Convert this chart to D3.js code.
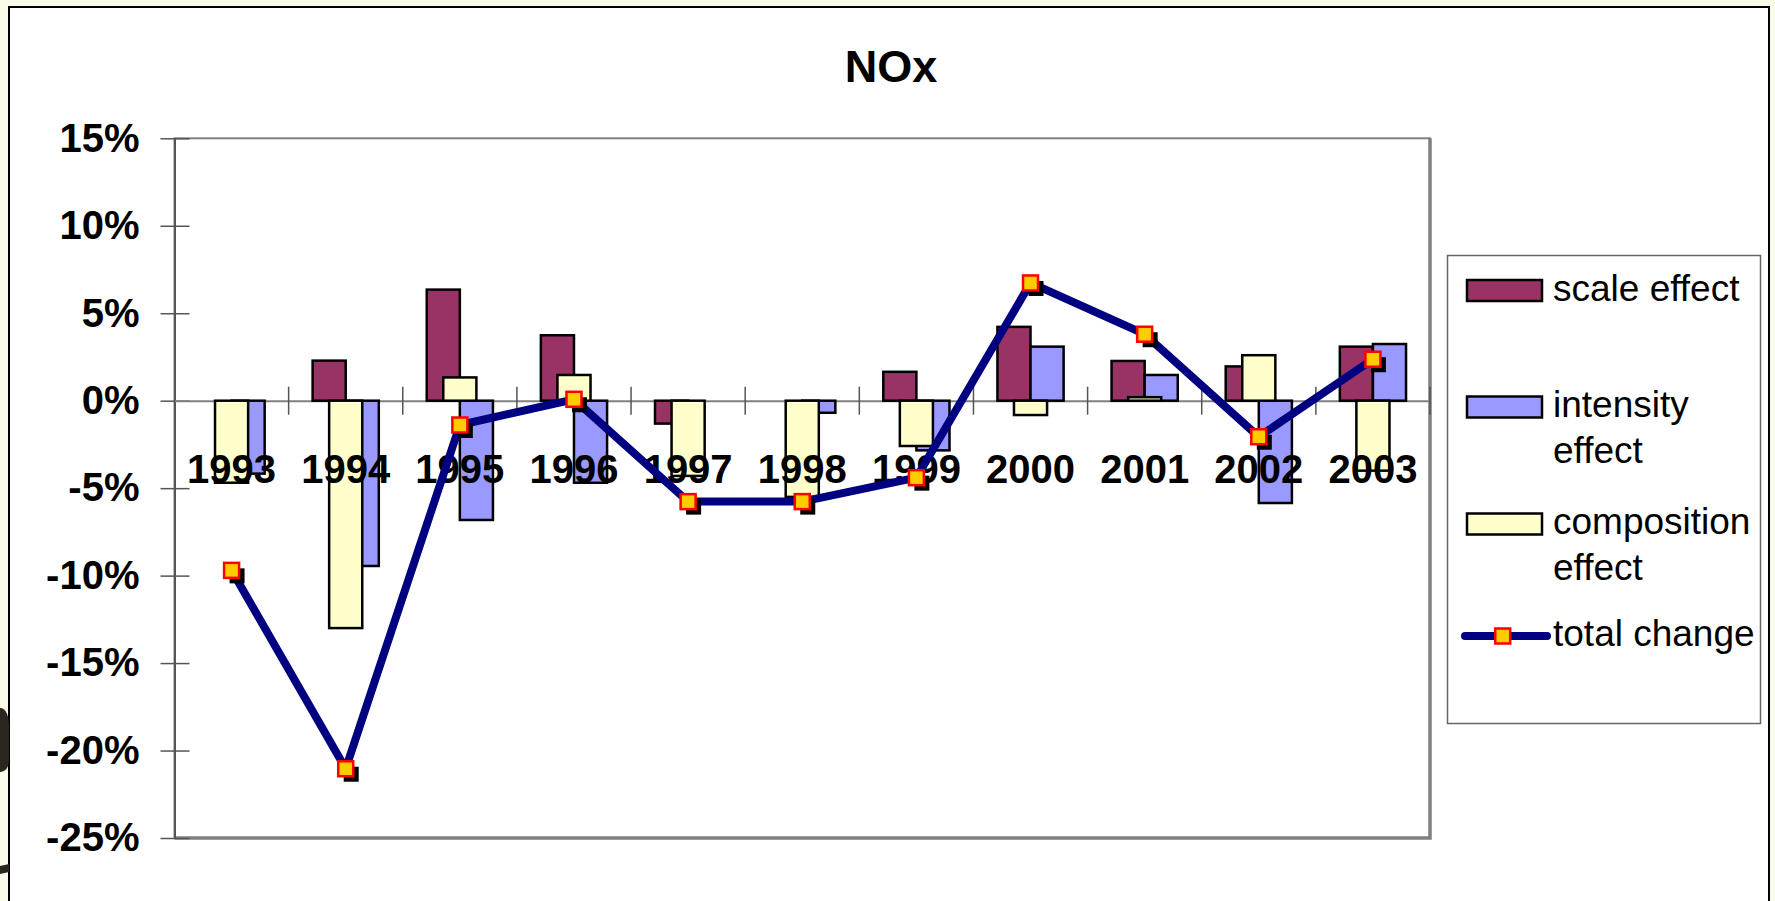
<!DOCTYPE html>
<html>
<head>
<meta charset="utf-8">
<script src="https://cdn.jsdelivr.net/npm/d3@7"></script>
<style>
  html, body { margin: 0; padding: 0; background: #FAFBE9; }
  svg { display: block; }
  text { font-family: "Liberation Sans", Arial, sans-serif; }
</style>
</head>
<body>
<svg id="chart" width="1775" height="901"></svg>
<script>
// Decomposition of NOx emission changes (year-on-year, %)
const years = ["1993","1994","1995","1996","1997","1998","1999","2000","2001","2002","2003"];
const scaleEffect       = [0, 2.29, 6.35, 3.74, -1.31, 0, 1.65, 4.22, 2.27, 1.96, 3.09];
const intensityEffect   = [-4.17, -9.45, -6.82, -4.69, 0, -0.69, -2.84, 3.09, 1.47, -5.85, 3.24];
const compositionEffect = [-4.69, -13.0, 1.33, 1.47, -4.3, -5.5, -2.59, -0.82, 0.2, 2.6, -4.0];
const totalChange       = [-9.7, -21.04, -1.39, 0.08, -5.77, -5.77, -4.4, 6.73, 3.8, -2.06, 2.37];
const yTicks = [15, 10, 5, 0, -5, -10, -15, -20, -25];
const seriesNames = ["scale effect", "intensity effect", "composition effect", "total change"];
const legendLines = [["scale effect"], ["intensity", "effect"], ["composition", "effect"], ["total change"]];
const barColors = { "scale effect": "#993366", "intensity effect": "#9999FF", "composition effect": "#FFFFCC" };

const svg = d3.select("#chart");

// chart area background and border
svg.append("rect").attr("x", 9).attr("y", 7).attr("width", 1760).attr("height", 1000)
  .attr("fill", "#FFFFFF").attr("stroke", "#000").attr("stroke-width", 2);

// dark shapes peeking in at the far left edge
svg.append("path").attr("d", "M0,708 C6,708 9,716 9,726 L9,760 C9,768 5,772 0,772 Z").attr("fill", "#2b2620");
svg.append("path").attr("d", "M0,866 L9,864 L9,872 L0,874 Z").attr("fill", "#2b2620");

// title
svg.append("text").attr("x", 891).attr("y", 81.5).attr("text-anchor", "middle")
  .attr("font-weight", "bold").attr("font-size", 45).text("NOx");

const plot = { left: 174.5, right: 1430, top: 138.3, bottom: 838 };

const x = d3.scaleBand().domain(years).range([plot.left, plot.right]).paddingInner(0).paddingOuter(0);
const y = d3.scaleLinear().domain([-25, 15]).range([plot.bottom, plot.top]);

const barW = x.bandwidth() * 0.29;
const seriesOffset = d3.scalePoint()
  .domain(["scale effect", "composition effect", "intensity effect"])
  .range([-barW / 2, barW / 2]);

// plot area frame
svg.append("rect").attr("x", plot.left).attr("y", plot.top)
  .attr("width", plot.right - plot.left).attr("height", plot.bottom - plot.top)
  .attr("fill", "#FFFFFF").attr("stroke", "#808080").attr("stroke-width", 2);
svg.append("path")
  .attr("d", `M${plot.right},${plot.top}V${plot.bottom}H${plot.left}`)
  .attr("fill", "none").attr("stroke", "#808080").attr("stroke-width", 3.5);

// y axis
const yAxis = svg.append("g").attr("transform", `translate(${plot.left},0)`)
  .call(d3.axisLeft(y).tickValues(yTicks).tickSizeInner(14).tickSizeOuter(0).tickPadding(21)
    .tickFormat(d => d + "%"));
yAxis.select(".domain").attr("stroke", "#555").attr("stroke-width", 2);
yAxis.selectAll(".tick line").attr("x1", 15).attr("stroke", "#555").attr("stroke-width", 1.5);
yAxis.selectAll(".tick text").attr("font-size", 40).attr("font-weight", "bold")
  .attr("fill", "#000").style("font-family", "'Liberation Sans', Arial, sans-serif");

// x axis line at zero with tick marks between categories
const xAxisLine = svg.append("g").attr("transform", `translate(0,${y(0)})`)
  .call(d3.axisBottom(x).tickSize(0).tickSizeOuter(0).tickFormat(""));
xAxisLine.select(".domain").attr("stroke", "#808080").attr("stroke-width", 2);
xAxisLine.selectAll(".tick").remove();
svg.append("g").selectAll("line")
  .data(years.slice(1).concat(["end"]))
  .join("line")
  .attr("x1", (d, i) => x(years[0]) + (i + 1) * x.step())
  .attr("x2", (d, i) => x(years[0]) + (i + 1) * x.step())
  .attr("y1", y(0) - 14).attr("y2", y(0) + 14)
  .attr("stroke", "#555").attr("stroke-width", 1.5);

// bars: scale, intensity, composition (composition drawn on top)
const barSeries = [
  { name: "scale effect", values: scaleEffect },
  { name: "intensity effect", values: intensityEffect },
  { name: "composition effect", values: compositionEffect }
];
barSeries.forEach(s => {
  svg.append("g").selectAll("rect")
    .data(s.values.map((v, i) => ({ year: years[i], v })).filter(d => d.v !== 0))
    .join("rect")
    .attr("x", d => x(d.year) + x.bandwidth() / 2 + seriesOffset(s.name) - barW / 2)
    .attr("y", d => y(Math.max(0, d.v)))
    .attr("width", barW)
    .attr("height", d => Math.abs(y(d.v) - y(0)))
    .attr("fill", barColors[s.name])
    .attr("stroke", "#000").attr("stroke-width", 2.5);
});

// category labels
const xLabels = svg.append("g").attr("transform", `translate(0,${y(0)})`)
  .call(d3.axisBottom(x).tickSize(0));
xLabels.select(".domain").remove();
xLabels.selectAll(".tick text").attr("dy", null).attr("y", 82)
  .attr("font-size", 40).attr("font-weight", "bold").attr("fill", "#000")
  .style("font-family", "'Liberation Sans', Arial, sans-serif");

// total change line
const cx = (d, i) => x(years[i]) + x.bandwidth() / 2;
const line = d3.line().x((d, i) => cx(d, i)).y(d => y(d));
svg.append("path").datum(totalChange).attr("d", line)
  .attr("fill", "none").attr("stroke", "#000080").attr("stroke-width", 8)
  .attr("stroke-linejoin", "round");

const mk = 15;
svg.append("g").selectAll("rect").data(totalChange).join("rect")
  .attr("x", (d, i) => cx(d, i) - mk / 2 + 5.5).attr("y", d => y(d) - mk / 2 + 5.5)
  .attr("width", mk).attr("height", mk).attr("fill", "#000");
svg.append("g").selectAll("rect").data(totalChange).join("rect")
  .attr("x", (d, i) => cx(d, i) - mk / 2).attr("y", d => y(d) - mk / 2)
  .attr("width", mk).attr("height", mk)
  .attr("fill", "#FFCC00").attr("stroke", "#FF0000").attr("stroke-width", 2.5);

// legend
const legend = svg.append("g");
legend.append("rect").attr("x", 1447.5).attr("y", 255.5).attr("width", 313).attr("height", 468)
  .attr("fill", "#FFFFFF").attr("stroke", "#666").attr("stroke-width", 1.5);
const entryY = [290.5, 407, 524, 636];
seriesNames.forEach((name, i) => {
  const cy = entryY[i];
  if (name === "total change") {
    legend.append("line").attr("x1", 1465).attr("x2", 1547).attr("y1", cy).attr("y2", cy)
      .attr("stroke", "#000080").attr("stroke-width", 8).attr("stroke-linecap", "round");
    legend.append("rect").attr("x", 1502.7 - mk / 2).attr("y", cy - mk / 2)
      .attr("width", mk).attr("height", mk)
      .attr("fill", "#FFCC00").attr("stroke", "#FF0000").attr("stroke-width", 2.5);
  } else {
    legend.append("rect").attr("x", 1467).attr("y", cy - 10.5).attr("width", 75).attr("height", 21)
      .attr("fill", barColors[name]).attr("stroke", "#000").attr("stroke-width", 2.5);
  }
  const t = legend.append("text").attr("x", 1553).attr("y", cy + 10).attr("font-size", 37).attr("fill", "#000");
  legendLines[i].forEach((ln, j) => {
    t.append("tspan").attr("x", 1553).attr("dy", j === 0 ? 0 : 46).text(ln);
  });
});
</script>
</body>
</html>
